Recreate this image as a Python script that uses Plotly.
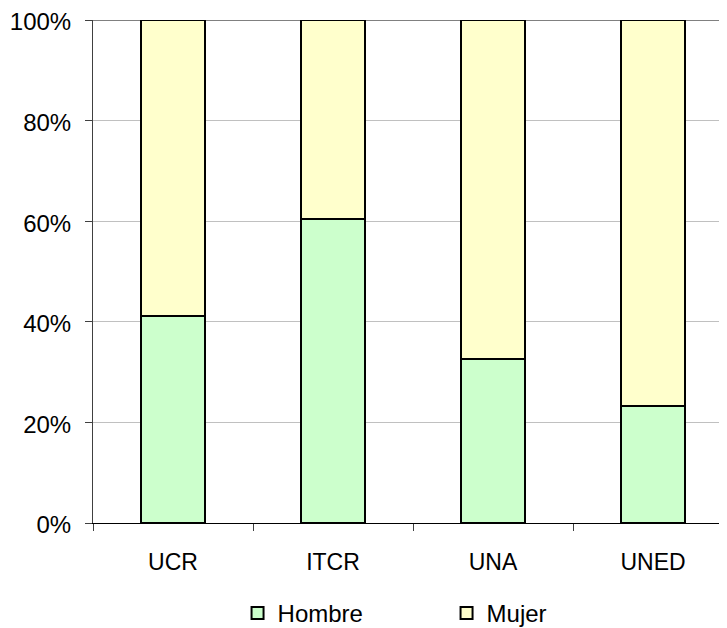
import plotly.graph_objects as go

categories = ["UCR", "ITCR", "UNA", "UNED"]
hombre = [41.2, 60.5, 32.6, 23.2]
mujer = [58.8, 39.5, 67.4, 76.8]
y_ticks = [0, 20, 40, 60, 80, 100]
y_tick_labels = ["0%", "20%", "40%", "60%", "80%", "100%"]

fam = "Liberation Sans, Arial, sans-serif"
yfont = dict(family=fam, size=24, color="black")
xfont = dict(family=fam, size=23, color="black")
lfont = dict(family=fam, size=24, color="black")

fig = go.Figure()
fig.add_trace(go.Bar(x=categories, y=hombre, name="Hombre",
                     marker=dict(color="#CCFFCC", line=dict(color="black", width=2)),
                     width=0.406))
fig.add_trace(go.Bar(x=categories, y=mujer, name="Mujer",
                     marker=dict(color="#FFFFCC", line=dict(color="black", width=2)),
                     width=0.406))

fig.add_shape(type="line", xref="paper", yref="y", x0=0, x1=1, y0=100, y1=100,
              line=dict(color="#808080", width=2), layer="below")

fig.update_layout(
    barmode="stack",
    width=719, height=620,
    margin=dict(l=85, r=0, t=12, b=105, autoexpand=False),
    plot_bgcolor="white", paper_bgcolor="white",
    font=lfont,
    bargap=0,
    showlegend=True,
    legend=dict(orientation="h", x=0.228, xanchor="left", y=-0.135, yanchor="top",
                traceorder="normal", entrywidth=164, font=lfont, itemsizing="constant"),
    xaxis=dict(range=[-0.5, 3.4625], showline=True, linecolor="black", linewidth=1,
               ticks="outside", tickson="boundaries", ticklen=7, tickcolor="#404040",
               showgrid=False, tickfont=xfont, ticklabelstandoff=18),
    yaxis=dict(range=[0, 100], tickvals=y_ticks, ticktext=y_tick_labels,
               showline=True, linecolor="#404040", linewidth=1,
               ticks="outside", ticklen=7, tickcolor="#404040",
               showgrid=True, gridcolor="#C0C0C0", gridwidth=1,
               zeroline=False, tickfont=yfont, ticklabelstandoff=9,
               ticklabelshift=2, ticklabeloverflow="allow"),
)

fig.write_html("out.html")
